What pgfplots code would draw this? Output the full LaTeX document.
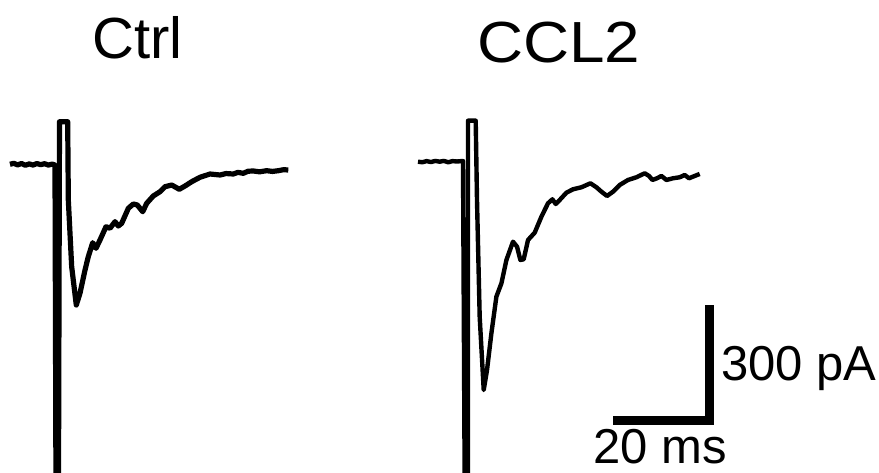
\documentclass[border=0pt]{standalone}
\usepackage{pgfplots}
\pgfplotsset{compat=1.18}
\usepackage{pgfplotstable}
\usepackage{fontspec}
\setmainfont{Liberation Sans}
\pgfplotstableread{
t I
0 0
0.8 2.5
1.6 -1.5
2.4 2.0
3.2 -2.5
4.0 1.0
4.8 -2.0
5.6 2.0
6.4 -1.0
7.2 1.5
8.0 -2.0
8.8 0.5
9.375 -1.8
9.58 -850
10.10 -850
10.31 110.6
12.02 110.6
12.15 -92.7
12.85 -266
13.81 -365.5
14.58 -335
15.63 -274.5
16.31 -240
17.23 -203.6
17.92 -218.2
18.75 -196.6
20.0 -162
20.83 -166.2
21.88 -149
22.56 -160.3
23.27 -153.2
24.65 -114.3
25.69 -103.1
26.52 -105.7
27.65 -123.1
28.48 -101.3
29.85 -82.3
31.25 -71.2
32.29 -58.2
33.69 -53.8
35.27 -64.9
36.46 -56.4
37.85 -45.2
39.58 -33.8
41.67 -25.2
43.75 -27.8
45.0 -24.0
46.52 -25.2
47.5 -21.0
48.6 -23.4
49.6 -18.0
50.69 -17.4
52.0 -19.5
53.48 -16.6
54.7 -18.5
55.9 -16.6
57.0 -14.0
57.98 -14.8
}\ctrl
\pgfplotstableread{
t I
0 0
0.9 -1.5
1.8 1.5
2.7 -1.0
3.6 2.0
4.5 0.0
5.4 2.0
6.3 -1.5
7.2 1.5
8.1 0.5
9.375 1.8
9.73 -850
10.42 -850
10.42 106.5
12.02 106.5
12.29 -99.5
12.85 -402.6
13.69 -593
14.38 -541
15.29 -445.7
16.33 -350.6
17.38 -315.8
18.42 -255.3
19.79 -207.8
20.63 -220.8
21.33 -255.3
22.02 -253.5
22.92 -203.4
24.31 -184.4
25.71 -142.9
27.08 -108.1
28.0 -97.7
28.69 -109.9
29.52 -99.5
30.92 -80.5
32.29 -71.7
34.04 -66.5
35.92 -56.1
37.17 -66.5
38.21 -77.9
39.38 -89.1
40.63 -77.9
42.02 -60.5
43.75 -47.5
45.5 -40.5
47.23 -30.1
48.13 -37.1
48.83 -47.5
49.79 -43.1
50.71 -37.1
51.75 -47.5
53.13 -43.1
54.52 -40.5
55.56 -34.5
56.46 -43.1
57.65 -37.1
58.69 -31.9
}\ccl
\begin{document}
\begin{tikzpicture}
\begin{axis}[
  scale only axis, width=879pt, height=472pt,
  xmin=-2.083, xmax=181.04, ymin=-799.2, ymax=426.75,
  hide axis, clip=true,
]
\addplot[draw=black, line width=5.2pt, line join=round] table[x=t, y=I] {\ctrl};
\addplot[draw=black, line width=4.4pt, line join=round] table[x expr=\thisrow{t}+85, y expr=\thisrow{I}+6.8] {\ccl};
% scale bar: 20 ms, 300 pA
\addplot[draw=black, line width=9pt, line join=miter] coordinates {(125.625,-665.5) (145.625,-665.5) (145.625,-365.5)};
\node[anchor=base west, inner sep=0pt, font=\fontsize{58}{64}\selectfont] at (axis cs:17.08,275.3) {Ctrl};
\node[anchor=base west, inner sep=0pt, xscale=1.1, font=\fontsize{58}{64}\selectfont] at (axis cs:97.3,264.4) {CCL2};
\node[anchor=base west, inner sep=0pt, font=\fontsize{49}{56}\selectfont] at (axis cs:148.1,-560.3) {300 pA};
\node[anchor=base west, inner sep=0pt, font=\fontsize{49}{56}\selectfont] at (axis cs:121.46,-776) {20 ms};
\end{axis}
\pgfresetboundingbox
\path (current axis.south west) rectangle (current axis.north east);
\end{tikzpicture}
\end{document}
